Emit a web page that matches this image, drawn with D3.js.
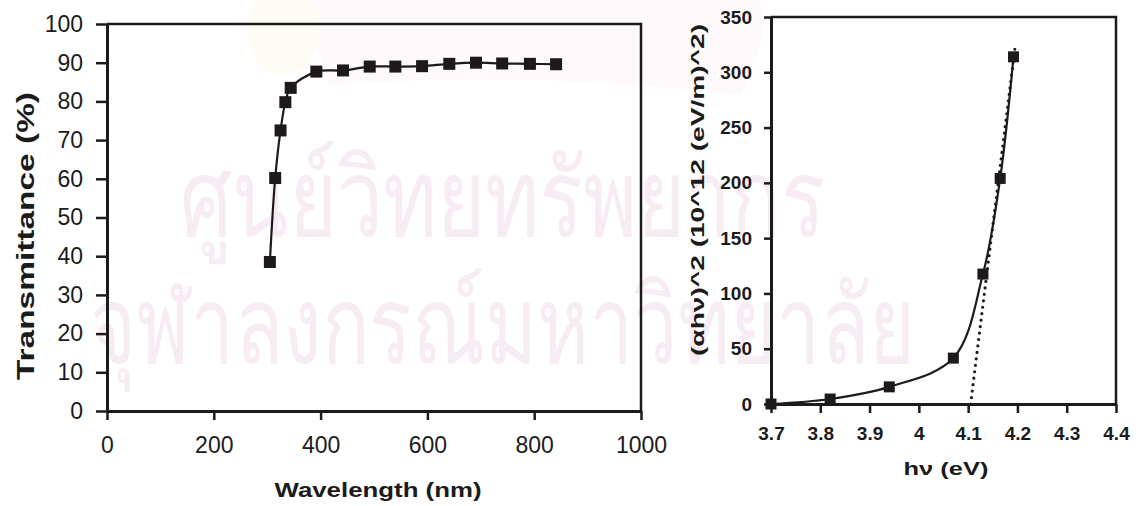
<!DOCTYPE html>
<html>
<head>
<meta charset="utf-8">
<script src="https://cdn.jsdelivr.net/npm/d3@7"></script>
<style>
  body { margin: 0; background: #fff; }
  text { font-family: "Liberation Sans", Arial, sans-serif; fill: #1b1b1b; }
  .axis path, .axis line { stroke: #1b1b1b; }
</style>
</head>
<body>
<svg id="chart" width="1145" height="506"></svg>
<script>
// transmittance spectrum (left)
const wavelength = [305, 315, 325, 334, 344, 392, 442, 492, 540, 590, 641, 691, 740, 792, 841];
const transmittance = [38.5, 60.2, 72.5, 79.8, 83.5, 87.7, 88.0, 89.0, 89.0, 89.1, 89.7, 90.0, 89.8, 89.7, 89.6];
const wlTicks = [0, 200, 400, 600, 800, 1000];
const trTicks = [0, 10, 20, 30, 40, 50, 60, 70, 80, 90, 100];

// tauc plot (right)
const photonEnergy = [3.70, 3.82, 3.94, 4.07, 4.13, 4.165, 4.192];
const alphaHv2 = [0, 4.5, 15.5, 41.5, 117.5, 204, 314];
const fitEnergy = [4.105, 4.195];
const fitValue = [0, 322];
const evTicks = [3.7, 3.8, 3.9, 4.0, 4.1, 4.2, 4.3, 4.4];
const evTickLabels = ["3.7", "3.8", "3.9", "4", "4.1", "4.2", "4.3", "4.4"];
const ahTicks = [0, 50, 100, 150, 200, 250, 300, 350];

// watermark lines
const watermark = ["ศูนย์วิทยทรัพยากร", "จุฬาลงกรณ์มหาวิทยาลัย"];

const svg = d3.select("#chart");
const ink = "#1e1a1b";

// watermark behind everything (faint banner + emblem + text)
const wm = svg.append("g").attr("class", "watermark");
wm.append("path")
  .attr("d", "M300,0 H760 Q770,40 740,95 Q520,70 330,85 Z")
  .attr("fill", "#fef9fb");
wm.append("ellipse")
  .attr("cx", 283).attr("cy", 28).attr("rx", 36).attr("ry", 48)
  .attr("fill", "#fefcf5");
wm.selectAll("text").data(watermark).enter().append("text")
  .attr("x", (d, i) => i ? 90 : 180)
  .attr("y", (d, i) => i ? 363 : 236)
  .attr("textLength", (d, i) => i ? 825 : 645)
  .attr("lengthAdjust", "spacingAndGlyphs")
  .style("font-size", "108px")
  .style("fill", "#f8ecf4")
  .text(d => d);

function drawChart(cfg) {
  const g = svg.append("g");
  const x = d3.scaleLinear().domain(cfg.xDomain).range(cfg.xRange);
  const y = d3.scaleLinear().domain(cfg.yDomain).range(cfg.yRange);

  // frame (top + right)
  g.append("path")
    .attr("d", `M${x.range()[0]},${y.range()[1]}H${x.range()[1]}V${y.range()[0]}`)
    .attr("fill", "none").attr("stroke", ink).attr("stroke-width", 2.5);

  const xAxis = d3.axisBottom(x).tickValues(cfg.xTicks).tickSizeInner(cfg.xTickSize)
    .tickSizeOuter(0).tickPadding(cfg.xPad)
    .tickFormat((d, i) => cfg.xLabels ? cfg.xLabels[i] : d);
  const yAxis = d3.axisLeft(y).tickValues(cfg.yTicks).tickSizeInner(cfg.yTickSize)
    .tickSizeOuter(0).tickPadding(cfg.yPad);

  const gx = g.append("g").attr("class", "axis")
    .attr("transform", `translate(0,${y.range()[0]})`).call(xAxis);
  const gy = g.append("g").attr("class", "axis")
    .attr("transform", `translate(${x.range()[0]},0)`).call(yAxis);
  [gx, gy].forEach(a => {
    a.select(".domain").attr("stroke-width", 3);
    a.selectAll(".tick line").attr("stroke-width", 2.5);
    a.selectAll(".tick text")
      .style("font-size", cfg.tickFont + "px")
      .style("font-weight", cfg.tickWeight)
      .attr("fill", ink);
  });

  // axis titles
  g.append("text")
    .attr("x", cfg.xTitle.x).attr("y", cfg.xTitle.y)
    .attr("text-anchor", "middle")
    .attr("textLength", cfg.xTitle.len).attr("lengthAdjust", "spacingAndGlyphs")
    .style("font-size", cfg.xTitle.size + "px").style("font-weight", "bold")
    .text(cfg.xTitle.text);
  g.append("text")
    .attr("transform", `translate(${cfg.yTitle.x},${cfg.yTitle.y})rotate(-90)`)
    .attr("text-anchor", "middle")
    .attr("textLength", cfg.yTitle.len).attr("lengthAdjust", "spacingAndGlyphs")
    .style("font-size", cfg.yTitle.size + "px").style("font-weight", "bold")
    .text(cfg.yTitle.text);

  // fit line (dotted)
  if (cfg.fit) {
    g.append("path")
      .datum(d3.zip(cfg.fit[0], cfg.fit[1]))
      .attr("d", d3.line().x(d => x(d[0])).y(d => y(d[1])))
      .attr("fill", "none").attr("stroke", ink)
      .attr("stroke-width", 3.2).attr("stroke-linecap", "round")
      .attr("stroke-dasharray", "0,6.5");
  }

  const pts = d3.zip(cfg.xs, cfg.ys);
  g.append("path")
    .datum(pts)
    .attr("d", d3.line().x(d => x(d[0])).y(d => y(d[1])).curve(d3.curveCatmullRom.alpha(0.5)))
    .attr("fill", "none").attr("stroke", ink).attr("stroke-width", 2.2);

  g.selectAll(".pt").data(pts).enter().append("rect")
    .attr("class", "pt")
    .attr("x", d => x(d[0]) - cfg.mark / 2)
    .attr("y", d => y(d[1]) - cfg.mark / 2)
    .attr("width", cfg.mark).attr("height", cfg.mark)
    .attr("fill", ink);
}

drawChart({
  xs: wavelength, ys: transmittance,
  xDomain: [0, 1000], xRange: [107, 641],
  yDomain: [0, 100], yRange: [411, 24],
  xTicks: wlTicks, yTicks: trTicks,
  xTickSize: 9, xPad: 17, yTickSize: 11, yPad: 13,
  tickFont: 23, tickWeight: "normal", mark: 12,
  xTitle: { text: "Wavelength (nm)", x: 378, y: 497, len: 207, size: 21 },
  yTitle: { text: "Transmittance (%)", x: 34, y: 236, len: 288, size: 24 }
});

drawChart({
  xs: photonEnergy, ys: alphaHv2,
  xDomain: [3.7, 4.4], xRange: [771, 1116],
  yDomain: [0, 350], yRange: [404, 17],
  xTicks: evTicks, xLabels: evTickLabels, yTicks: ahTicks,
  xTickSize: 9, xPad: 14, yTickSize: 7, yPad: 12,
  tickFont: 19, tickWeight: "bold", mark: 11,
  fit: [fitEnergy, fitValue],
  xTitle: { text: "hν  (eV)", x: 946, y: 475, len: 85, size: 19 },
  yTitle: { text: "(αhν)^2  (10^12 (eV/m)^2)", x: 704, y: 190, len: 332, size: 19 }
});
</script>
</body>
</html>
